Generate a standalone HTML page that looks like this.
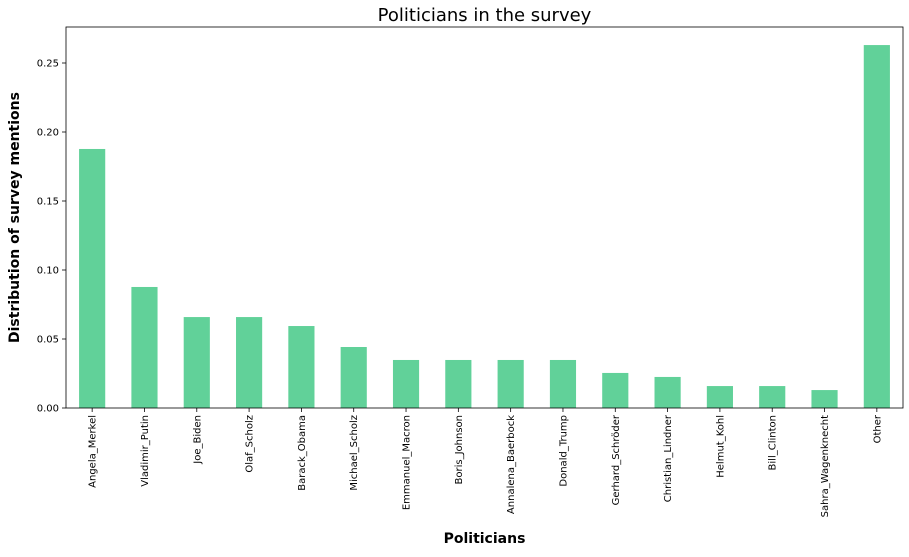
<!DOCTYPE html>
<html><head><meta charset="utf-8"><style>
body{margin:0;background:#fff;font-family:"DejaVu Sans","Liberation Sans",sans-serif;}
</style></head><body>
<svg id="chart" width="909" height="553" xmlns="http://www.w3.org/2000/svg" font-family="DejaVu Sans, Liberation Sans, sans-serif"></svg>
<script>
const categories=["Angela_Merkel","Vladimir_Putin","Joe_Biden","Olaf_Scholz","Barack_Obama","Michael_Scholz","Emmanuel_Macron","Boris_Johnson","Annalena_Baerbock","Donald_Trump","Gerhard_Schröder","Christian_Lindner","Helmut_Kohl","Bill_Clinton","Sahra_Wagenknecht","Other"];
const values=[0.1877,0.0877,0.0659,0.0659,0.0594,0.0442,0.0348,0.0348,0.0348,0.0348,0.0254,0.0225,0.0159,0.0159,0.013,0.263];
const yTicks=[0,0.05,0.10,0.15,0.20,0.25];
const yTickLabels=["0.00","0.05","0.10","0.15","0.20","0.25"];
const svg=document.getElementById('chart');
const NS="http://www.w3.org/2000/svg";
const L=66,R=903,T=27,B=408;
const y=v=>B-v*1380;
const step=(R-L)/categories.length;
const x=i=>L+step*(i+0.5);
function mk(tag,attrs,text){const e=document.createElementNS(NS,tag);for(const k in attrs)e.setAttribute(k,attrs[k]);if(text!==undefined)e.textContent=text;svg.appendChild(e);return e;}
categories.forEach((c,i)=>{
  const bw=step*0.5;
  const r=mk('rect',{x:x(i)-bw/2,y:y(values[i]),width:bw,height:B-y(values[i]),fill:'#61d199'});
  
  
  mk('line',{x1:x(i),x2:x(i),y1:B,y2:B+4,stroke:'#000','stroke-width':0.8});
  const t=mk('text',{x:0,y:0,'font-size':10,'text-anchor':'end',transform:`translate(${x(i)+3.5},${B+7}) rotate(-90)`},c);
  
  
});
yTicks.forEach((v,i)=>{
  mk('line',{x1:L-4,x2:L,y1:y(v),y2:y(v),stroke:'#000','stroke-width':0.8});
  const t=mk('text',{x:L-7,y:y(v)+3.5,'font-size':10,'text-anchor':'end'},yTickLabels[i]);
  
  
});
const ax=mk('rect',{x:L,y:T,width:R-L,height:B-T,fill:'none',stroke:'#000','stroke-width':0.8});


const ti=mk('text',{x:(L+R)/2,y:21,'font-size':18,'text-anchor':'middle'},'Politicians in the survey');


const xt=mk('text',{x:(L+R)/2,y:543,'font-size':14,'font-weight':'bold','text-anchor':'middle'},'Politicians');


const yt=mk('text',{x:0,y:0,'font-size':14,'font-weight':'bold','text-anchor':'middle',transform:`translate(19,${(T+B)/2}) rotate(-90)`},'Distribution of survey mentions');


</script>
</body></html>
